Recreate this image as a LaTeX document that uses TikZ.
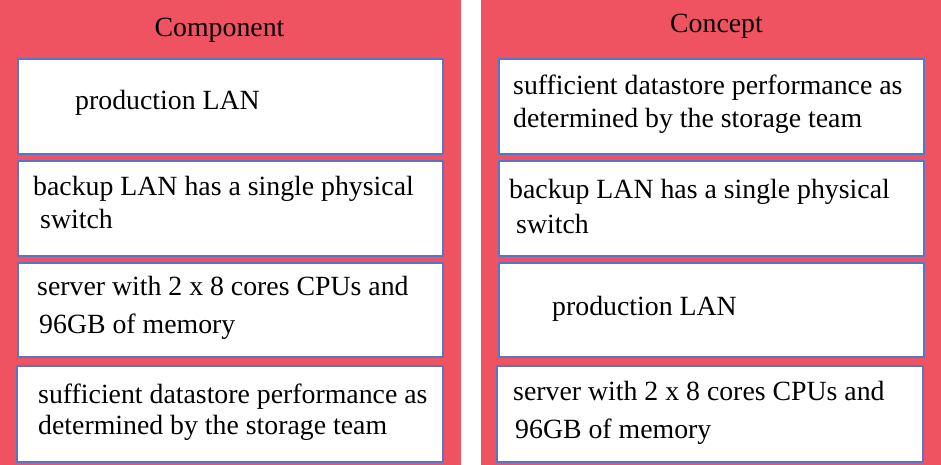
\documentclass[tikz,border=0pt]{standalone}
\usepackage{fontspec}
\setmainfont{Liberation Serif}
\definecolor{panelred}{RGB}{239,83,97}
\definecolor{boxblue}{RGB}{88,118,200}
\begin{document}
\begin{tikzpicture}[x=1pt,y=-1pt,
  panel/.style={fill=panelred,draw=none},
  card/.style={fill=white,draw=boxblue,line width=1.4pt},
  txt/.style={anchor=base west,inner sep=0pt,font=\fontsize{27.8}{32}\selectfont},
  ttl/.style={anchor=base,inner sep=0pt,font=\fontsize{27.8}{32}\selectfont}]
\useasboundingbox (0,0) rectangle (941,465);
\fill[white] (0,0) rectangle (941,465);
% panels
\path[panel] (0,0) rectangle (461,465);
\path[panel] (481,0) rectangle (941,465);
\node[ttl] (tleft) at (219.5,37) {Component};
\node[ttl] (tright) at (716.5,33) {Concept};
% left cards
\draw[card] (18,59) rectangle (443,154);
\draw[card] (18,161) rectangle (443,256);
\draw[card] (18,263) rectangle (443,357);
\draw[card] (17,366) rectangle (443,462);
% right cards
\draw[card] (499,59) rectangle (924,154);
\draw[card] (499,161) rectangle (924,256);
\draw[card] (499,263) rectangle (924,357);
\draw[card] (497,366) rectangle (923,462);
% left texts
\node[txt] (l1a) at (75,110) {production LAN};
\node[txt] (l2a) at (33,195) {backup LAN has a single physical};
\node[txt] (l2b) at (40,228) {switch};
\node[txt] (l3a) at (37,295) {server with 2 x 8 cores CPUs and};
\node[txt] (l3b) at (39,333) {96GB of memory};
\node[txt] (l4a) at (38,403) {sufficient datastore performance as};
\node[txt] (l4b) at (38,434) {determined by the storage team};
% right texts
\node[txt] (r1a) at (513,95) {sufficient datastore performance as};
\node[txt] (r1b) at (513,128) {determined by the storage team};
\node[txt] (r2a) at (509,198) {backup LAN has a single physical};
\node[txt] (r2b) at (516,233) {switch};
\node[txt] (r3a) at (552,315) {production LAN};
\node[txt] (r4a) at (513,400) {server with 2 x 8 cores CPUs and};
\node[txt] (r4b) at (515,438) {96GB of memory};
\end{tikzpicture}
\end{document}
